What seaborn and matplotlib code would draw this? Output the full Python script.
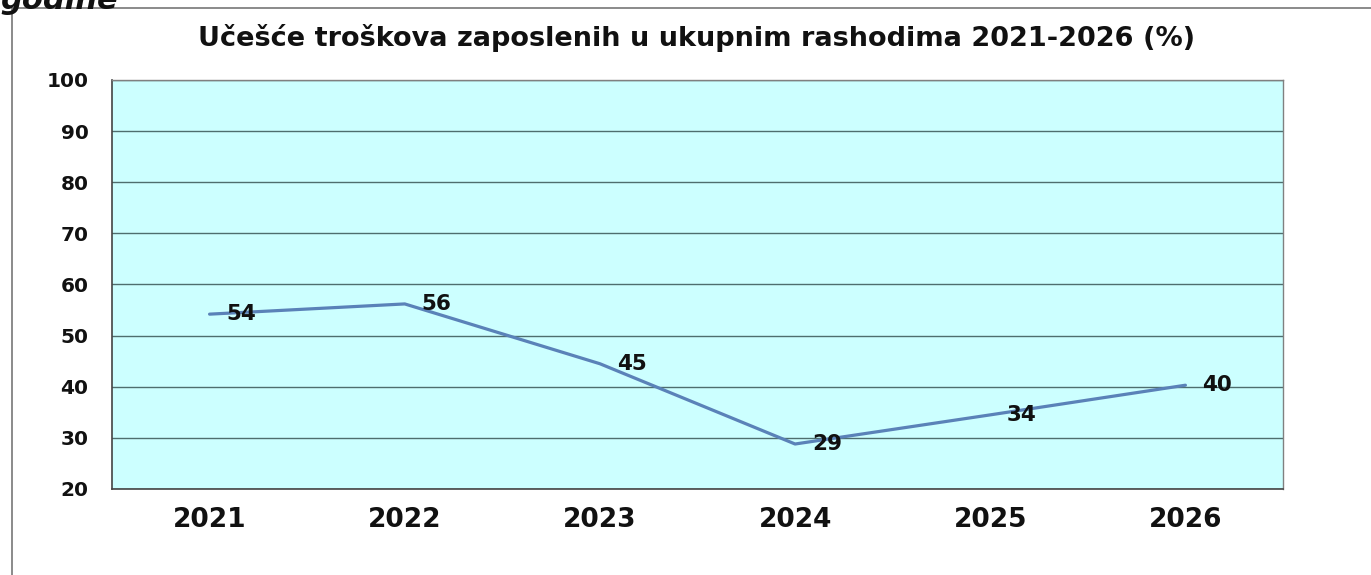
import matplotlib
matplotlib.use('Agg')
import matplotlib.pyplot as plt
import seaborn as sns
import pandas as pd
from matplotlib.patches import Rectangle

# podaci
godine = ['2021', '2022', '2023', '2024', '2025', '2026']
ucesce = [54.2, 56.2, 44.5, 28.8, 34.5, 40.3]
oznake = ['54', '56', '45', '29', '34', '40']
y_ticks = [20, 30, 40, 50, 60, 70, 80, 90, 100]

df = pd.DataFrame({'godina': godine, 'ucesce': ucesce})

sns.set_style('white')
plt.rcParams['font.family'] = ['DejaVu Sans']

fig = plt.figure(figsize=(13.71, 5.75), dpi=100)
ax = fig.add_axes([112/1371, 1-489/575, (1283-112)/1371, (489-80)/575])
ax.set_facecolor('#CCFFFF')

# linija
sns.lineplot(data=df, x='godina', y='ucesce', ax=ax, color='#5A82B8',
             linewidth=2.3, sort=False)

for i, (v, t) in enumerate(zip(ucesce, oznake)):
    ax.annotate(t, (i, v), xytext=(12, 0), textcoords='offset points',
                ha='left', va='center', fontsize=15.5, fontweight='bold', color='#111111')

ax.set_xlim(-0.5, 5.5)
ax.set_ylim(20, 100)
ax.set_yticks(y_ticks)
ax.set_yticklabels([str(t) for t in y_ticks], fontsize=14.5, fontweight='bold', color='#111111')
ax.set_xticks(range(len(godine)))
ax.set_xticklabels(godine, fontsize=19, fontweight='bold', color='#111111')
ax.set_xticks([i - 0.5 for i in range(len(godine) + 1)], minor=True)
ax.tick_params(axis='x', which='major', length=0, pad=13)
ax.tick_params(axis='x', which='minor', length=6, color='#444444', direction='out')
ax.tick_params(axis='y', length=5, color='#444444', direction='out', pad=12)
ax.set_xlabel('')
ax.set_ylabel('')

ax.grid(axis='y', color='#4E6E6E', linewidth=1)
ax.set_axisbelow(True)
for s in ['left', 'bottom']:
    ax.spines[s].set_color('#444444')
    ax.spines[s].set_linewidth(1.2)
for s in ['top', 'right']:
    ax.spines[s].set_color('#808080')
    ax.spines[s].set_linewidth(1)

fig.text(697/1371, 1-38/575, 'Učešće troškova zaposlenih u ukupnim rashodima 2021-2026 (%)',
         ha='center', va='center', fontsize=19.5, fontweight='bold', color='#111111')

# okvir i odsječeni tekst
fig.patches.append(Rectangle((12/1371, -0.1), 1.2, 1.1 - 8/575, transform=fig.transFigure,
                             fill=False, edgecolor='#777777', linewidth=1.2))
fig.text(0.0, 1 - 9/575, 'godine', ha='left', va='baseline', fontsize=22, fontweight='bold',
         fontstyle='italic', color='#111111')

fig.savefig('out.png', dpi=100)
